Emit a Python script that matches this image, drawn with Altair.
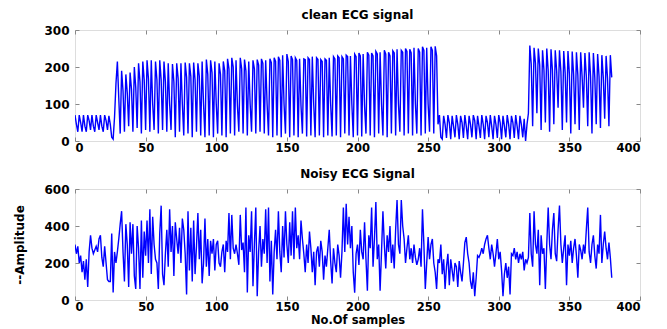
import altair as alt
import pandas as pd

# ---- clean ECG signal (sample index = position in list) ----
clean_0 = [70, 45, 25, 70, 50, 25, 70, 40, 25, 70,
           55, 30, 70, 40, 25, 70, 50, 30, 70, 40,
           25, 70, 55, 30, 68, 45, 10, 5, 65, 155]
clean_1 = [215, 115, 20, 190, 135, 25, 180, 130, 40, 185,
           140, 25, 200, 145, 35, 210, 160, 20, 215, 165,
           30, 218, 168, 25, 218, 100, 30, 215, 165, 20,
           218, 165, 30, 215, 160, 25, 210, 100, 30, 208,
           160, 10, 210, 170, 25, 210, 100, 15, 212, 172,
           20, 210, 175, 10, 212, 165, 25, 210, 175, 15,
           215, 100, 10, 220, 180, 15, 218, 185, 10, 215,
           100, 20, 210, 180, 15, 215, 190, 10, 222, 195,
           20, 225, 200, 15, 218, 95, 25, 225, 195, 20,
           220, 190, 15, 215, 100, 25, 218, 195, 20, 220,
           205, 25, 222, 210, 20, 218, 100, 15, 222, 212,
           10, 225, 215, 15, 228, 218, 10, 232, 100, 20,
           235, 215, 10, 230, 220, 15, 225, 218, 10, 222,
           95, 20, 222, 220, 12, 225, 220, 15, 228, 100,
           10, 225, 220, 15, 220, 215, 10, 222, 218, 15,
           225, 100, 12, 228, 222, 15, 230, 225, 10, 228,
           222, 20, 232, 228, 15, 230, 100, 10, 235, 228,
           15, 238, 230, 12, 235, 95, 20, 240, 232, 15,
           238, 230, 10, 242, 235, 20, 240, 100, 15, 245,
           235, 10, 240, 230, 20, 244, 238, 15, 248, 100,
           25, 245, 240, 15, 250, 242, 20, 248, 238, 15,
           252, 100, 20, 250, 240, 15, 255, 245, 20, 252,
           100, 25, 255, 245, 20, 256, 230]
clean_2 = [45, 70, 10,
           5, 68, 45, 8, 70, 50, 5, 68, 40, 10,
           70, 45, 5, 68, 50, 8, 70, 40, 5, 68,
           45, 10, 70, 55, 5, 68, 40, 8, 70, 45,
           5, 68, 50, 10, 70, 40, 5, 68, 45, 8,
           70, 50, 5, 68, 40, 10, 70, 45, 5, 68,
           50, 8, 70, 40, 5, 68, 45, 10, 60, 0]
clean_3 = [45, 75, 258, 208, 40, 252, 210, 75, 250, 205,
           30, 245, 192, 50, 250, 190, 25, 248, 192, 45,
           245, 190, 90, 245, 188, 30, 243, 185, 50, 243,
           182, 20, 242, 180, 45, 240, 178, 30, 240, 175,
           90, 238, 175, 40, 240, 175, 20, 238, 172, 45,
           235, 175, 35, 232, 172, 60, 230, 170, 40, 232,
           172]

# ---- noisy ECG signal ----
noisy_0 = [300, 250, 290, 200, 240, 150, 210, 110, 220, 70,
           260, 350, 280, 250, 270, 290, 260, 330, 350, 230,
           180, 290, 200, 110, 100, 100, 360, 40, 260, 200,
           260, 330, 410, 480, 260, 100, 410, 300, 70, 420,
           250, 410, 130, 60, 400, 280, 60, 430, 120, 370,
           240, 430, 200, 490, 140, 450, 300, 220, 200, 60,
           360, 510, 140, 80, 250, 380, 180, 490, 260, 400,
           130, 420, 330, 250, 390, 200, 440, 380, 250, 30,
           480, 160, 390, 100, 430, 140, 290, 470, 220, 380,
           90, 200, 440, 180, 330, 130, 320, 250, 330, 160]
noisy_1 = [300, 320, 200, 180, 260, 300, 150, 320, 260, 470,
           220, 460, 280, 250, 300, 250, 190, 460, 270, 310,
           150, 500, 40, 350, 260, 480, 75, 300, 500, 20,
           260, 400, 180, 330, 250, 490, 200, 500, 100, 320,
           30, 260, 380, 220, 480, 260, 150, 400, 230, 480,
           300, 200, 420, 240, 480, 220, 500, 280, 350, 220,
           430, 330, 250, 150, 300, 200, 370, 280, 150, 260,
           80, 260, 290, 180, 320, 260, 110, 240, 180, 280,
           380, 210, 90, 280, 200, 150, 300, 240, 120, 260,
           500, 260, 520, 300, 450, 280, 400, 150, 40, 250]
noisy_2 = [300, 190, 380, 260, 220, 420, 220, 50, 350, 280,
           500, 180, 330, 530, 220, 300, 50, 260, 480, 300,
           170, 350, 260, 400, 200, 300, 170, 380, 540, 300,
           250, 540, 400, 330, 200, 280, 350, 220, 280, 200,
           300, 230, 190, 220, 280, 180, 490, 300, 60, 200,
           340, 220, 300, 330, 200, 150, 60, 220, 200, 300,
           140, 220, 60, 180, 250, 80, 220, 160, 100, 200,
           180, 70, 210, 150, 100, 200, 310, 340, 250, 200,
           100, 60, 150, 20, 120, 240, 230, 250, 280, 250,
           300, 330, 350, 280, 220, 300, 250, 180, 250, 330]
noisy_3 = [220, 260, 160, 20, 140, 200, 120, 180, 30, 250,
           240, 280, 220, 260, 200, 250, 220, 260, 160, 220,
           200, 230, 470, 250, 180, 480, 300, 250, 380, 80,
           350, 250, 280, 60, 300, 500, 300, 220, 380, 470,
           250, 210, 380, 510, 300, 200, 280, 350, 80, 300,
           240, 320, 200, 280, 330, 240, 120, 300, 270, 220,
           300, 250, 380, 500, 260, 200, 300, 350, 240, 170,
           300, 250, 460, 200, 300, 370, 280, 220, 310, 230,
           120]

x_ticks = [0, 50, 100, 150, 200, 250, 300, 350, 400]
top_titles = ["clean ECG signal", "Noisy ECG Signal"]
x_title = "No.Of samples"
y_title = "--Amplitude"

clean = clean_0 + clean_1 + clean_2 + clean_3
noisy = noisy_0 + noisy_1 + noisy_2 + noisy_3
df_clean = pd.DataFrame({"sample": list(range(len(clean))), "value": clean})
df_noisy = pd.DataFrame({"sample": list(range(len(noisy))), "value": noisy})

FONT = "DejaVu Sans"
W, H = 565, 111
T = 4
TICK = "#333333"
LBL = dict(labelFont=FONT, labelFontWeight="bold", labelColor="black")


def panel(df, ymax, ystep, title, xtitle, ytitle):
    xs = alt.Scale(domain=[0, 400], nice=False, zero=False)
    ys = alt.Scale(domain=[0, ymax], nice=False)
    yvals = list(range(0, ymax + 1, ystep))
    xkw = {"title": xtitle} if xtitle else {"title": None}
    ykw = {"title": ytitle} if ytitle else {"title": None}
    main = alt.Chart(df).mark_line(color="#0000ff", strokeWidth=1.4, clip=True).encode(
        x=alt.X("sample:Q", scale=xs,
                axis=alt.Axis(orient="bottom", values=x_ticks, offset=-T, tickSize=T,
                              domain=False, grid=False, labelPadding=1, labelFontSize=11.5,
                              titlePadding=2, titleFontSize=11.5, titleFont=FONT,
                              titleFontWeight="bold", **LBL), **xkw),
        y=alt.Y("value:Q", scale=ys,
                axis=alt.Axis(orient="left", values=yvals, offset=-T, tickSize=T,
                              domain=False, grid=False, labelPadding=6, labelFontSize=12,
                              titlePadding=17, titleFontSize=12, titleFont=FONT,
                              titleFontWeight="bold", **LBL), **ykw),
    )
    ghost = alt.Chart(df).mark_line(opacity=0).encode(
        x=alt.X("sample:Q", scale=xs, title=None,
                axis=alt.Axis(orient="top", values=x_ticks, offset=-T, tickSize=T,
                              labels=False, domain=False, grid=False)),
        y=alt.Y("value:Q", scale=ys, title=None,
                axis=alt.Axis(orient="right", values=yvals, offset=-T, tickSize=T,
                              labels=False, domain=False, grid=False)),
    )
    return alt.layer(main, ghost).resolve_axis(x="independent", y="independent").properties(
        width=W, height=H,
        title=alt.TitleParams(title, font=FONT, fontSize=12, fontWeight="bold",
                              anchor="middle", offset=2, color="black"),
    )


top = panel(df_clean, 300, 100, top_titles[0], None, None)
bottom = panel(df_noisy, 600, 200, top_titles[1], x_title, y_title)

chart = alt.vconcat(top, bottom, spacing=13).properties(
    padding={"left": 5, "right": 5, "top": 0, "bottom": 0}
).configure_view(
    stroke="#333333", strokeWidth=1.3
).configure_axis(
    tickColor=TICK, tickWidth=1
).configure(background="white")

chart.save("out.html", embed_options={"renderer": "svg", "actions": False})
